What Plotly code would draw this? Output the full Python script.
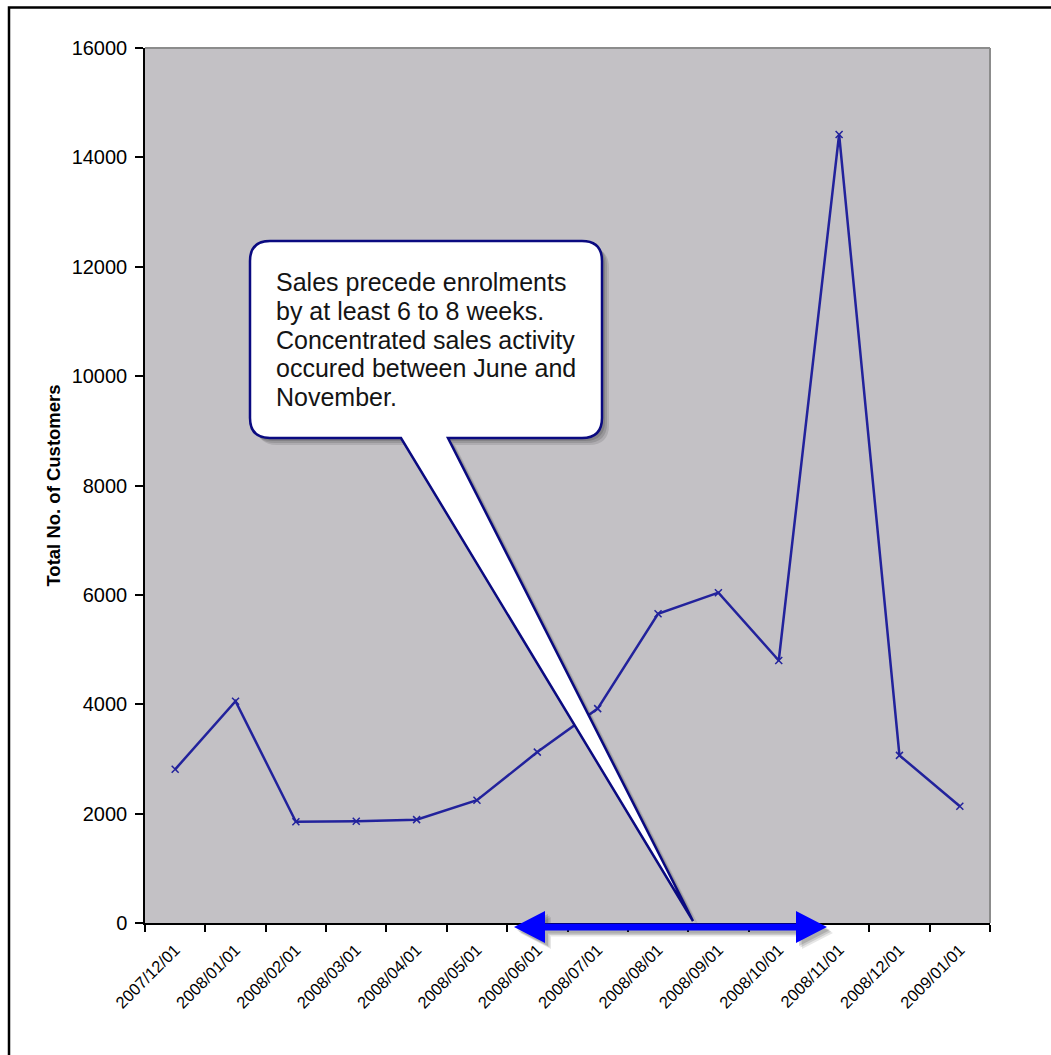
import plotly.graph_objects as go

# Monthly enrolment totals
months = ["2007/12/01", "2008/01/01", "2008/02/01", "2008/03/01", "2008/04/01",
          "2008/05/01", "2008/06/01", "2008/07/01", "2008/08/01", "2008/09/01",
          "2008/10/01", "2008/11/01", "2008/12/01", "2009/01/01"]
customers = [2810, 4055, 1850, 1860, 1890, 2245, 3125, 3920, 5655, 6040,
             4800, 14420, 3065, 2135]

y_ticks = [0, 2000, 4000, 6000, 8000, 10000, 12000, 14000, 16000]

callout_lines = ["Sales precede enrolments",
                 "by at least 6 to 8 weeks.",
                 "Concentrated sales activity",
                 "occured between June and",
                 "November."]

W, H = 1051, 1055
ML, MR, MT, MB = 145, 61, 48, 132
PW = W - ML - MR
PH = H - MT - MB


def xp(px):
    return (px - ML) / PW


def yp(py):
    return (H - MB - py) / PH


def path_from(points):
    # points: list of ("M"/"L"/"Q", coords...) in pixel space -> paper-space SVG path
    out = []
    for cmd, *c in points:
        if cmd == "Z":
            out.append("Z")
            continue
        conv = []
        for i in range(0, len(c), 2):
            conv.append(f"{xp(c[i]):.5f},{yp(c[i+1]):.5f}")
        out.append(cmd + " " + " ".join(conv))
    return " ".join(out)


def callout(dx=0, dy=0):
    x0, x1, y0, y1, r = 250 + dx, 602 + dx, 241 + dy, 438 + dy, 20
    tl, tr, tip = 401 + dx, 448 + dx, (693 + dx, 921 + dy)
    return path_from([
        ("M", x0 + r, y0), ("L", x1 - r, y0), ("Q", x1, y0, x1, y0 + r),
        ("L", x1, y1 - r), ("Q", x1, y1, x1 - r, y1),
        ("L", tr, y1), ("L", tip[0], tip[1]), ("L", tl, y1),
        ("L", x0 + r, y1), ("Q", x0, y1, x0, y1 - r),
        ("L", x0, y0 + r), ("Q", x0, y0, x0 + r, y0), ("Z",)])


def double_arrow(dx=0, dy=0):
    xl, xr, yc = 514 + dx, 827 + dx, 927 + dy
    hl, hh, st = 31, 16, 3.5
    return path_from([
        ("M", xl, yc), ("L", xl + hl, yc - hh), ("L", xl + hl, yc - st),
        ("L", xr - hl, yc - st), ("L", xr - hl, yc - hh), ("L", xr, yc),
        ("L", xr - hl, yc + hh), ("L", xr - hl, yc + st),
        ("L", xl + hl, yc + st), ("L", xl + hl, yc + hh), ("Z",)])


fig = go.Figure()
fig.add_trace(go.Scatter(
    x=months, y=customers, mode="lines+markers",
    line=dict(color="#22229C", width=2.5),
    marker=dict(symbol="x-thin", size=7, line=dict(color="#22229C", width=1.5)),
    hoverinfo="x+y", showlegend=False,
))

shapes = []
# plot-area frame (top and right edges)
shapes.append(dict(type="line", xref="paper", yref="paper", x0=0, x1=1, y0=1, y1=1,
                   line=dict(color="#8C8C8C", width=2), layer="above"))
shapes.append(dict(type="line", xref="paper", yref="paper", x0=1, x1=1, y0=0, y1=1,
                   line=dict(color="#8C8C8C", width=2), layer="above"))
# chart border
shapes.append(dict(type="rect", xref="paper", yref="paper",
                   x0=xp(9), x1=xp(1070), y0=yp(1070), y1=yp(7.5),
                   line=dict(color="#000000", width=2.5), layer="above"))

# double arrow with soft shadow
for off, op in [(6, 0.12), (4.5, 0.15), (3, 0.18)]:
    shapes.append(dict(type="path", xref="paper", yref="paper", path=double_arrow(off, off),
                       fillcolor="#303030", opacity=op, line=dict(width=0), layer="above"))
shapes.append(dict(type="path", xref="paper", yref="paper", path=double_arrow(),
                   fillcolor="#0000FF", line=dict(width=0), layer="above"))

# callout with soft shadow
for off, op in [(7, 0.14), (5, 0.17), (3, 0.2)]:
    shapes.append(dict(type="path", xref="paper", yref="paper", path=callout(off, off),
                       fillcolor="#303030", opacity=op, line=dict(width=0), layer="above"))
shapes.append(dict(type="path", xref="paper", yref="paper", path=callout(),
                   fillcolor="#FFFFFF", line=dict(color="#0A0A80", width=2.5), layer="above"))

annotations = []
baseline0, spacing, fsize = 290.7, 28.75, 25
for i, txt in enumerate(callout_lines):
    annotations.append(dict(
        xref="paper", yref="paper", x=xp(274), y=yp(baseline0 + i * spacing - 0.346 * fsize),
        xanchor="left", yanchor="middle", text=txt, showarrow=False,
        font=dict(family="Liberation Sans, Arial", size=fsize, color="#141414"),
    ))

fig.update_layout(
    width=W, height=H,
    margin=dict(l=ML, r=MR, t=MT, b=MB, autoexpand=False),
    paper_bgcolor="#FFFFFF", plot_bgcolor="#C3C1C5",
    font=dict(family="Liberation Sans, Arial", color="#000000"),
    shapes=shapes, annotations=annotations,
    xaxis=dict(
        type="category", tickangle=-45, tickson="boundaries",
        ticks="outside", ticklen=7, tickwidth=1.5, tickcolor="#000000",
        showline=True, linecolor="#000000", linewidth=1.5,
        showgrid=False, zeroline=False, ticklabelstandoff=9,
        tickfont=dict(size=16.5, color="#000000"),
        range=[-0.5, len(months) - 0.5], automargin=False,
    ),
    yaxis=dict(
        range=[0, 16000], tickvals=y_ticks, ticktext=[str(v) for v in y_ticks],
        ticks="outside", ticklen=8, tickwidth=1.5, tickcolor="#000000",
        showline=True, linecolor="#000000", linewidth=1.5,
        showgrid=False, zeroline=False, ticklabelstandoff=4,
        tickfont=dict(size=20, color="#000000"),
        title=dict(text="<b>Total No. of Customers</b>", standoff=6,
                   font=dict(size=18.5, color="#000000")),
        automargin=False,
    ),
)

fig.write_html("out.html")
